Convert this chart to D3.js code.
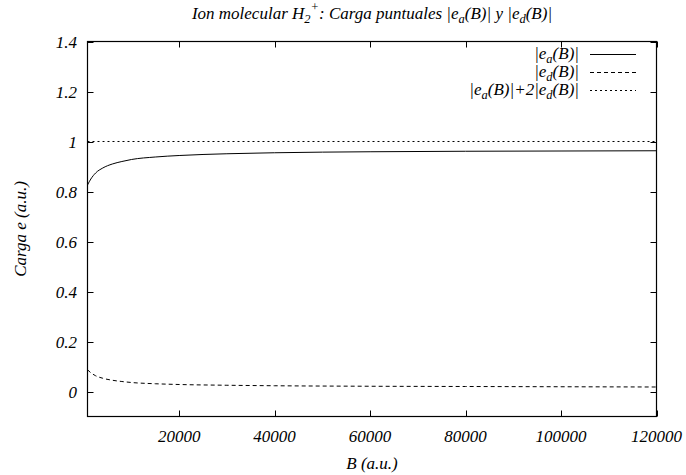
<!DOCTYPE html>
<html>
<head>
<meta charset="utf-8">
<script src="https://cdn.jsdelivr.net/npm/d3@7"></script>
<style>
  html, body { margin: 0; padding: 0; background: #fff; }
</style>
</head>
<body>
<svg id="chart" width="686" height="475"></svg>
<script>
// Magnetic field B (a.u.) at which the point charges were evaluated
const fieldB = [800, 1500, 2500, 4000, 6000, 8000, 10000, 15000, 20000, 30000, 40000, 60000, 80000, 100000, 120000];
// |e_a(B)| : charge on the central point
const chargeA = [0.826, 0.850, 0.874, 0.894, 0.910, 0.920, 0.928, 0.938, 0.944, 0.951, 0.955, 0.959, 0.961, 0.962, 0.963];
// |e_d(B)| : charge on each off-centre point
const chargeD = [0.087, 0.075, 0.063, 0.053, 0.045, 0.040, 0.036, 0.031, 0.028, 0.025, 0.023, 0.021, 0.020, 0.019, 0.018];
// |e_a(B)| + 2|e_d(B)| : total charge
const chargeTotal = [1, 1, 1, 1, 1, 1, 1, 1, 1, 1, 1, 1, 1, 1, 1];

const xTicks = [20000, 40000, 60000, 80000, 100000, 120000];
const yTicks = [0, 0.2, 0.4, 0.6, 0.8, 1.0, 1.2, 1.4];

const FONT = "'Liberation Serif', 'Times New Roman', Times, 'Nimbus Roman', 'DejaVu Serif', serif";
const FS = 17;

const svg = d3.select("#chart")
  .attr("font-family", FONT)
  .attr("font-style", "italic");
const mLeft = 87.5, mRight = 656.5, mTop = 41.5, mBottom = 416.5;

const x = d3.scaleLinear().domain([800, 120000]).range([mLeft, mRight]);
const y = d3.scaleLinear().domain([-0.1, 1.4]).range([mBottom, mTop]);

const fmtY = d => (d === 0 ? "0" : String(+d.toFixed(1)));

// tick marks on all four sides, pointing inward
const tickLen = 6;
const g = svg.append("g").attr("stroke", "#000").attr("stroke-width", 1);
xTicks.forEach(t => {
  const px = Math.round(x(t)) + 0.5;
  g.append("line").attr("x1", px).attr("x2", px).attr("y1", mBottom).attr("y2", mBottom - tickLen);
  g.append("line").attr("x1", px).attr("x2", px).attr("y1", mTop).attr("y2", mTop + tickLen);
});
yTicks.forEach(t => {
  const py = Math.round(y(t)) + 0.5;
  g.append("line").attr("x1", mLeft).attr("x2", mLeft + tickLen).attr("y1", py).attr("y2", py);
  g.append("line").attr("x1", mRight).attr("x2", mRight - tickLen).attr("y1", py).attr("y2", py);
});

// tick labels
svg.append("g").selectAll("text").data(xTicks).join("text")
  .attr("x", d => x(d)).attr("y", 442).attr("text-anchor", "middle")
  .attr("font-size", FS).text(d => d);
svg.append("g").selectAll("text").data(yTicks).join("text")
  .attr("x", 77).attr("y", d => y(d) + 6).attr("text-anchor", "end")
  .attr("font-size", FS).text(fmtY);

// curves
const line = d3.line().x(d => x(d[0])).y(d => y(d[1])).curve(d3.curveMonotoneX);
const series = [
  { values: chargeA, dash: null },
  { values: chargeD, dash: "4,3" },
  { values: chargeTotal, dash: "2,3" }
];
const plot = svg.append("g");
series.forEach(s => {
  plot.append("path")
    .datum(fieldB.map((b, i) => [b, s.values[i]]))
    .attr("d", line)
    .attr("fill", "none").attr("stroke", "#000").attr("stroke-width", 1)
    .attr("stroke-dasharray", s.dash);
});

// frame
svg.append("rect").attr("x", mLeft).attr("y", mTop)
  .attr("width", mRight - mLeft).attr("height", mBottom - mTop)
  .attr("fill", "none").attr("stroke", "#000").attr("stroke-width", 1.2);

// helper: rich text with sub/superscripts; each run carries its own shift
function addRich(textSel, parts, subSize, subShift, supShift) {
  let level = 0;
  parts.forEach(p => {
    let target = 0, size = null, txt = p.t;
    if (p.sub !== undefined) { target = subShift; size = subSize; txt = p.sub; }
    if (p.sup !== undefined) { target = -supShift; size = subSize; txt = p.sup; }
    const ts = textSel.append("tspan").attr("dy", target - level).text(txt);
    if (size) ts.attr("font-size", size);
    level = target;
  });
}

// legend
const legendRows = [
  { parts: [{ t: "|e" }, { sub: "a" }, { t: "(B)|" }], dash: null },
  { parts: [{ t: "|e" }, { sub: "d" }, { t: "(B)|" }], dash: "4,3" },
  { parts: [{ t: "|e" }, { sub: "a" }, { t: "(B)|+2|e" }, { sub: "d" }, { t: "(B)|" }], dash: "2,3" }
];
legendRows.forEach((r, i) => {
  const ly = 54 + i * 18;
  const t = svg.append("text").attr("x", 579).attr("y", ly + 5)
    .attr("text-anchor", "end").attr("font-size", FS);
  addRich(t, r.parts, 12.5, 3.5, 7);
  svg.append("line").attr("x1", 590).attr("x2", 636).attr("y1", ly + 0.5).attr("y2", ly + 0.5)
    .attr("stroke", "#000").attr("stroke-width", 1).attr("stroke-dasharray", r.dash);
});

// title
const title = svg.append("text").attr("x", 372).attr("y", 19)
  .attr("text-anchor", "middle").attr("font-size", FS);
addRich(title, [
  { t: "Ion molecular H" }, { sub: "2" }, { sup: "+" }, { t: ": Carga puntuales |e" }, { sub: "a" },
  { t: "(B)| y |e" }, { sub: "d" }, { t: "(B)|" }
], 12.5, 3.5, 8);

// axis titles
svg.append("text").attr("x", 372).attr("y", 469).attr("text-anchor", "middle")
  .attr("font-size", FS).text("B (a.u.)");
svg.append("text").attr("transform", "translate(26,229) rotate(-90)")
  .attr("text-anchor", "middle").attr("font-size", FS).text("Carga e (a.u.)");
</script>
</body>
</html>
